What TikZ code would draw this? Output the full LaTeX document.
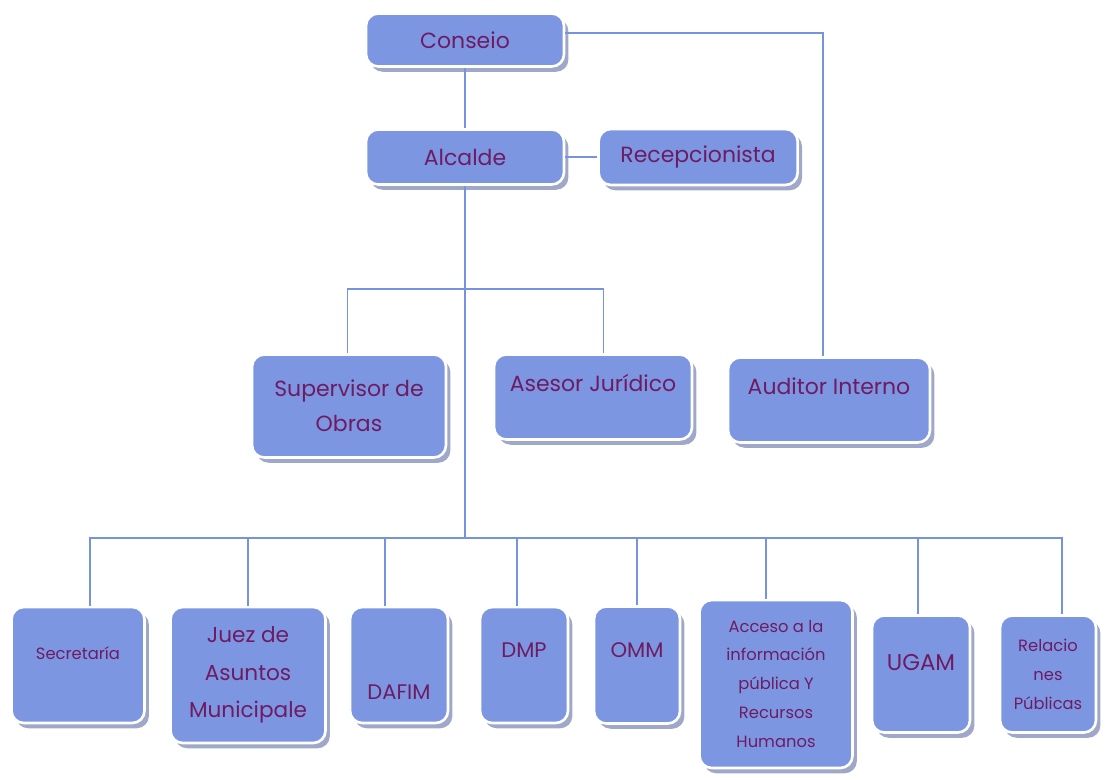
\documentclass[tikz,border=0pt]{standalone}
\usepackage{fontspec}
\setmainfont{Poppins}
\usetikzlibrary{positioning, shadows}
\definecolor{cajaazul}{RGB}{124,150,226}
\definecolor{textomorado}{RGB}{110,28,98}
\definecolor{lineaazul}{RGB}{118,148,222}
\definecolor{sombra}{RGB}{150,158,195}
\newcommand{\pxu}{0.02cm}

\begin{document}
\begin{tikzpicture}[x=\pxu, y=-\pxu,
  caja/.style={rectangle, rounded corners=7pt, fill=cajaazul, draw=white, line width=1.5pt,
    text=textomorado, align=center, inner sep=2pt,
    drop shadow={shadow xshift=2.5pt, shadow yshift=-3pt, fill=sombra, opacity=0.9}},
  dims/.style 2 args={minimum width=#1*\pxu, minimum height=#2*\pxu},
  grande/.style={font=\fontsize{12.5}{20}\selectfont},
  media/.style={font=\fontsize{12.3}{21.5}\selectfont},
  chica/.style={font=\fontsize{9.3}{16.5}\selectfont},
  sigla/.style={font=\fontsize{12}{14}\selectfont},
  linea/.style={draw=lineaazul, line width=0.8pt}]
\useasboundingbox (0,0) rectangle (1109,779);
% Direccion
\node[caja, grande, dims={198}{53}] (conseio) at (465,40) {Conseio};
\node[caja, grande, dims={198}{55}] (alcalde) at (465,157) {Alcalde};
\node[caja, grande, dims={199}{56}, right=0.64cm of alcalde] (recep) {Recepcionista};
\node[caja, grande, dims={194}{103}] (supervisor) at (349,406) {Supervisor de\\Obras};
\node[caja, grande, dims={198}{85}, text depth=16pt] (asesor) at (593,397) {Asesor Jurídico};
\node[caja, grande, dims={202}{85}, text depth=16pt] (auditor) at (829,400) {Auditor Interno};
% Dependencias
\node[caja, chica, dims={133}{116}, text depth=14pt] (secretaria) at (78,665) {Secretaría};
\node[caja, media, dims={155}{136}] (juez) at (248,675) {Juez de\\Asuntos\\Municipale};
\node[caja, sigla, dims={98}{116}, text height=39pt] (dafim) at (399,665) {DAFIM};
\node[caja, sigla, dims={88}{116}, text depth=17pt] (dmp) at (524,665) {DMP};
\node[caja, sigla, dims={86}{117}, text depth=17pt] (omm) at (637,665) {OMM};
\node[caja, chica, dims={153}{168}] (acceso) at (776,684) {Acceso a la\\información\\pública Y\\Recursos\\Humanos};
\node[caja, font=\fontsize{13}{15}\selectfont, dims={98}{117}, text depth=13pt] (ugam) at (921,674) {UGAM};
\node[caja, chica, dims={96}{117}] (relaciones) at (1048,674) {Relacio\\nes\\Públicas};
% Conexiones
\coordinate (rama) at (465,289);
\coordinate (bus) at (465,538);
\draw[linea] (conseio.south) -- (alcalde.north);
\draw[linea] ([yshift=4pt]conseio.east) -| ([xshift=-3.4pt]auditor.north);
\draw[linea] (alcalde.east) -- (recep.west);
\draw[linea] (alcalde.south) -- (bus);
\draw[linea] (rama) -| ([xshift=-1pt]supervisor.north);
\draw[linea] (rama) -| ([xshift=6pt]asesor.north);
\foreach \n/\d in {secretaria/6.8, juez/0, dafim/-8, dmp/-4, omm/0, acceso/-5.7, ugam/-1.7, relaciones/8}
  \draw[linea] (bus) -| ([xshift=\d pt]\n.north);
\end{tikzpicture}
\end{document}
